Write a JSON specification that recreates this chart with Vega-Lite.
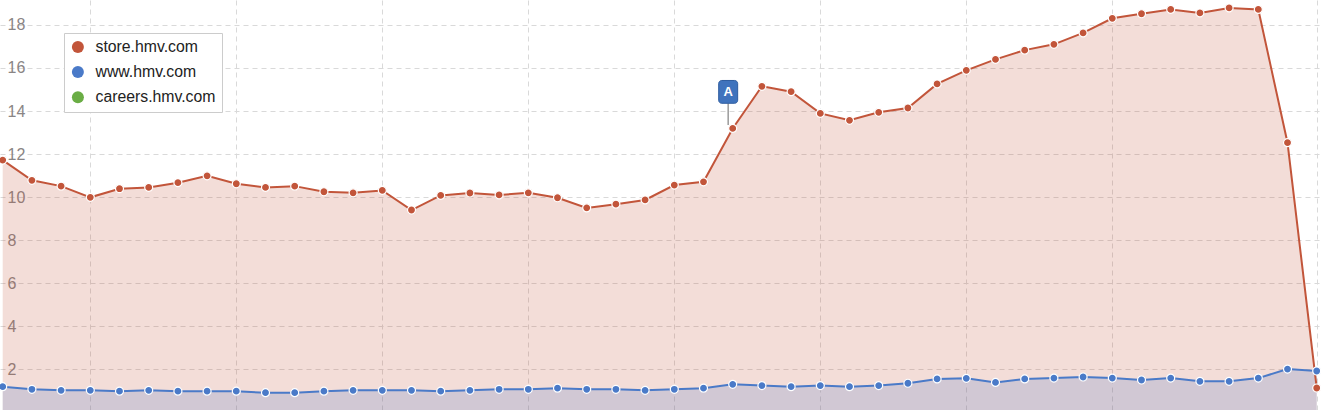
{
  "$schema": "https://vega.github.io/schema/vega-lite/v6.json",
  "width": 1321,
  "height": 410,
  "padding": 0,
  "autosize": "none",
  "background": "white",
  "config": {"view": {"stroke": null}},
  "datasets": {
    "series": [
      {"i":0,"site":"store.hmv.com","v":11.72},{"i":1,"site":"store.hmv.com","v":10.78},{"i":2,"site":"store.hmv.com","v":10.51},{"i":3,"site":"store.hmv.com","v":9.99},{"i":4,"site":"store.hmv.com","v":10.39},{"i":5,"site":"store.hmv.com","v":10.45},{"i":6,"site":"store.hmv.com","v":10.67},{"i":7,"site":"store.hmv.com","v":10.99},{"i":8,"site":"store.hmv.com","v":10.62},{"i":9,"site":"store.hmv.com","v":10.45},{"i":10,"site":"store.hmv.com","v":10.51},{"i":11,"site":"store.hmv.com","v":10.25},{"i":12,"site":"store.hmv.com","v":10.2},{"i":13,"site":"store.hmv.com","v":10.31},{"i":14,"site":"store.hmv.com","v":9.4},{"i":15,"site":"store.hmv.com","v":10.08},{"i":16,"site":"store.hmv.com","v":10.19},{"i":17,"site":"store.hmv.com","v":10.1},{"i":18,"site":"store.hmv.com","v":10.2},{"i":19,"site":"store.hmv.com","v":9.97},{"i":20,"site":"store.hmv.com","v":9.5},{"i":21,"site":"store.hmv.com","v":9.67},{"i":22,"site":"store.hmv.com","v":9.87},{"i":23,"site":"store.hmv.com","v":10.56},{"i":24,"site":"store.hmv.com","v":10.71},{"i":25,"site":"store.hmv.com","v":13.19},{"i":26,"site":"store.hmv.com","v":15.15},{"i":27,"site":"store.hmv.com","v":14.9},{"i":28,"site":"store.hmv.com","v":13.89},{"i":29,"site":"store.hmv.com","v":13.57},{"i":30,"site":"store.hmv.com","v":13.94},{"i":31,"site":"store.hmv.com","v":14.14},{"i":32,"site":"store.hmv.com","v":15.26},{"i":33,"site":"store.hmv.com","v":15.89},{"i":34,"site":"store.hmv.com","v":16.4},{"i":35,"site":"store.hmv.com","v":16.83},{"i":36,"site":"store.hmv.com","v":17.1},{"i":37,"site":"store.hmv.com","v":17.63},{"i":38,"site":"store.hmv.com","v":18.31},{"i":39,"site":"store.hmv.com","v":18.52},{"i":40,"site":"store.hmv.com","v":18.72},{"i":41,"site":"store.hmv.com","v":18.56},{"i":42,"site":"store.hmv.com","v":18.79},{"i":43,"site":"store.hmv.com","v":18.72},{"i":44,"site":"store.hmv.com","v":12.53},{"i":45,"site":"store.hmv.com","v":1.13},
      {"i":0,"site":"www.hmv.com","v":1.19},{"i":1,"site":"www.hmv.com","v":1.07},{"i":2,"site":"www.hmv.com","v":1.02},{"i":3,"site":"www.hmv.com","v":1.02},{"i":4,"site":"www.hmv.com","v":0.98},{"i":5,"site":"www.hmv.com","v":1.02},{"i":6,"site":"www.hmv.com","v":0.98},{"i":7,"site":"www.hmv.com","v":0.98},{"i":8,"site":"www.hmv.com","v":0.98},{"i":9,"site":"www.hmv.com","v":0.91},{"i":10,"site":"www.hmv.com","v":0.91},{"i":11,"site":"www.hmv.com","v":0.98},{"i":12,"site":"www.hmv.com","v":1.02},{"i":13,"site":"www.hmv.com","v":1.02},{"i":14,"site":"www.hmv.com","v":1.02},{"i":15,"site":"www.hmv.com","v":0.98},{"i":16,"site":"www.hmv.com","v":1.02},{"i":17,"site":"www.hmv.com","v":1.07},{"i":18,"site":"www.hmv.com","v":1.07},{"i":19,"site":"www.hmv.com","v":1.12},{"i":20,"site":"www.hmv.com","v":1.07},{"i":21,"site":"www.hmv.com","v":1.07},{"i":22,"site":"www.hmv.com","v":1.02},{"i":23,"site":"www.hmv.com","v":1.07},{"i":24,"site":"www.hmv.com","v":1.12},{"i":25,"site":"www.hmv.com","v":1.3},{"i":26,"site":"www.hmv.com","v":1.24},{"i":27,"site":"www.hmv.com","v":1.19},{"i":28,"site":"www.hmv.com","v":1.24},{"i":29,"site":"www.hmv.com","v":1.19},{"i":30,"site":"www.hmv.com","v":1.24},{"i":31,"site":"www.hmv.com","v":1.35},{"i":32,"site":"www.hmv.com","v":1.55},{"i":33,"site":"www.hmv.com","v":1.58},{"i":34,"site":"www.hmv.com","v":1.39},{"i":35,"site":"www.hmv.com","v":1.55},{"i":36,"site":"www.hmv.com","v":1.59},{"i":37,"site":"www.hmv.com","v":1.64},{"i":38,"site":"www.hmv.com","v":1.59},{"i":39,"site":"www.hmv.com","v":1.5},{"i":40,"site":"www.hmv.com","v":1.59},{"i":41,"site":"www.hmv.com","v":1.44},{"i":42,"site":"www.hmv.com","v":1.44},{"i":43,"site":"www.hmv.com","v":1.59},{"i":44,"site":"www.hmv.com","v":2.01},{"i":45,"site":"www.hmv.com","v":1.92}
    ],
    "flag": [
      {"x": 24.52, "x2": 25.17, "xc": 24.845, "y": 14.36, "y2": 15.42, "yc": 14.89, "ylow": 13.35, "label": "A"}
    ]
  },
  "layer": [
    {
      "data": {"name": "series"},
      "transform": [{"filter": "datum.site === 'store.hmv.com'"}],
      "mark": {"type": "area", "color": "#c2553a", "opacity": 0.2, "clip": true},
      "encoding": {
        "x": {"field": "i", "type": "quantitative",
              "scale": {"domain": [-0.0925, 45.147], "nice": false, "zero": false},
              "axis": {"labels": false, "ticks": false, "domain": false, "title": null,
                       "grid": true, "gridDash": [5, 4], "gridColor": "#d9d9d9", "gridWidth": 1,
                       "values": [3, 8, 13, 18, 23, 28, 33, 38, 45]}},
        "y": {"field": "v", "type": "quantitative",
              "scale": {"domain": [0.107, 19.16], "nice": false, "zero": false},
              "axis": {"title": null, "orient": "left", "ticks": false, "domain": false,
                       "values": [2, 4, 6, 8, 10, 12, 14, 16, 18],
                       "labelAlign": "left", "labelBaseline": "middle", "labelPadding": -7,
                       "labelFont": "Liberation Sans", "labelFontSize": 16, "labelColor": "#8a8585",
                       "grid": true, "gridDash": [5, 4], "gridColor": "#d9d9d9", "gridWidth": 1}}
      }
    },
    {
      "data": {"name": "series"},
      "transform": [{"filter": "datum.site === 'www.hmv.com'"}],
      "mark": {"type": "area", "color": "#4a7ac8", "opacity": 0.2, "clip": true},
      "encoding": {
        "x": {"field": "i", "type": "quantitative"},
        "y": {"field": "v", "type": "quantitative"}
      }
    },
    {
      "data": {"name": "series"},
      "transform": [{"filter": "datum.site === 'store.hmv.com'"}],
      "mark": {"type": "line", "color": "#c2553a", "strokeWidth": 2, "clip": true},
      "encoding": {
        "x": {"field": "i", "type": "quantitative"},
        "y": {"field": "v", "type": "quantitative"}
      }
    },
    {
      "data": {"name": "series"},
      "transform": [{"filter": "datum.site === 'www.hmv.com'"}],
      "mark": {"type": "line", "color": "#4a7ac8", "strokeWidth": 2, "clip": true},
      "encoding": {
        "x": {"field": "i", "type": "quantitative"},
        "y": {"field": "v", "type": "quantitative"}
      }
    },
    {
      "data": {"name": "series"},
      "mark": {"type": "point", "filled": true, "shape": "circle", "size": 64, "stroke": "white", "strokeWidth": 1.2, "opacity": 1, "clip": true},
      "encoding": {
        "x": {"field": "i", "type": "quantitative"},
        "y": {"field": "v", "type": "quantitative"},
        "color": {"field": "site", "type": "nominal",
                  "scale": {"domain": ["store.hmv.com", "www.hmv.com", "careers.hmv.com"],
                            "range": ["#c2553a", "#4a7ac8", "#6aad45"]},
                  "legend": {"title": null, "orient": "none", "legendX": 64, "legendY": 33,
                             "padding": 6, "strokeColor": "#cccccc", "fillColor": "white",
                             "symbolType": "circle", "symbolSize": 144, "symbolStrokeWidth": 0,
                             "symbolOpacity": 1,
                             "labelFont": "Liberation Sans", "labelFontSize": 15.8, "labelColor": "#222222",
                             "labelOffset": 9.7, "rowPadding": 8.2}}
      }
    },
    {
      "data": {"name": "flag"},
      "mark": {"type": "rule", "color": "#9a9a9a", "strokeWidth": 1.5},
      "encoding": {
        "x": {"field": "xc", "type": "quantitative"},
        "y": {"field": "ylow", "type": "quantitative"},
        "y2": {"field": "y"}
      }
    },
    {
      "data": {"name": "flag"},
      "mark": {"type": "rect", "fill": "#3f73bd", "stroke": "#2e5c9f", "strokeWidth": 1, "cornerRadius": 3},
      "encoding": {
        "x": {"field": "x", "type": "quantitative"},
        "x2": {"field": "x2"},
        "y": {"field": "y", "type": "quantitative"},
        "y2": {"field": "y2"}
      }
    },
    {
      "data": {"name": "flag"},
      "mark": {"type": "text", "color": "white", "font": "Liberation Sans", "fontWeight": "bold", "fontSize": 13, "align": "center", "baseline": "middle"},
      "encoding": {
        "x": {"field": "xc", "type": "quantitative"},
        "y": {"field": "yc", "type": "quantitative"},
        "text": {"field": "label"}
      }
    }
  ]
}
